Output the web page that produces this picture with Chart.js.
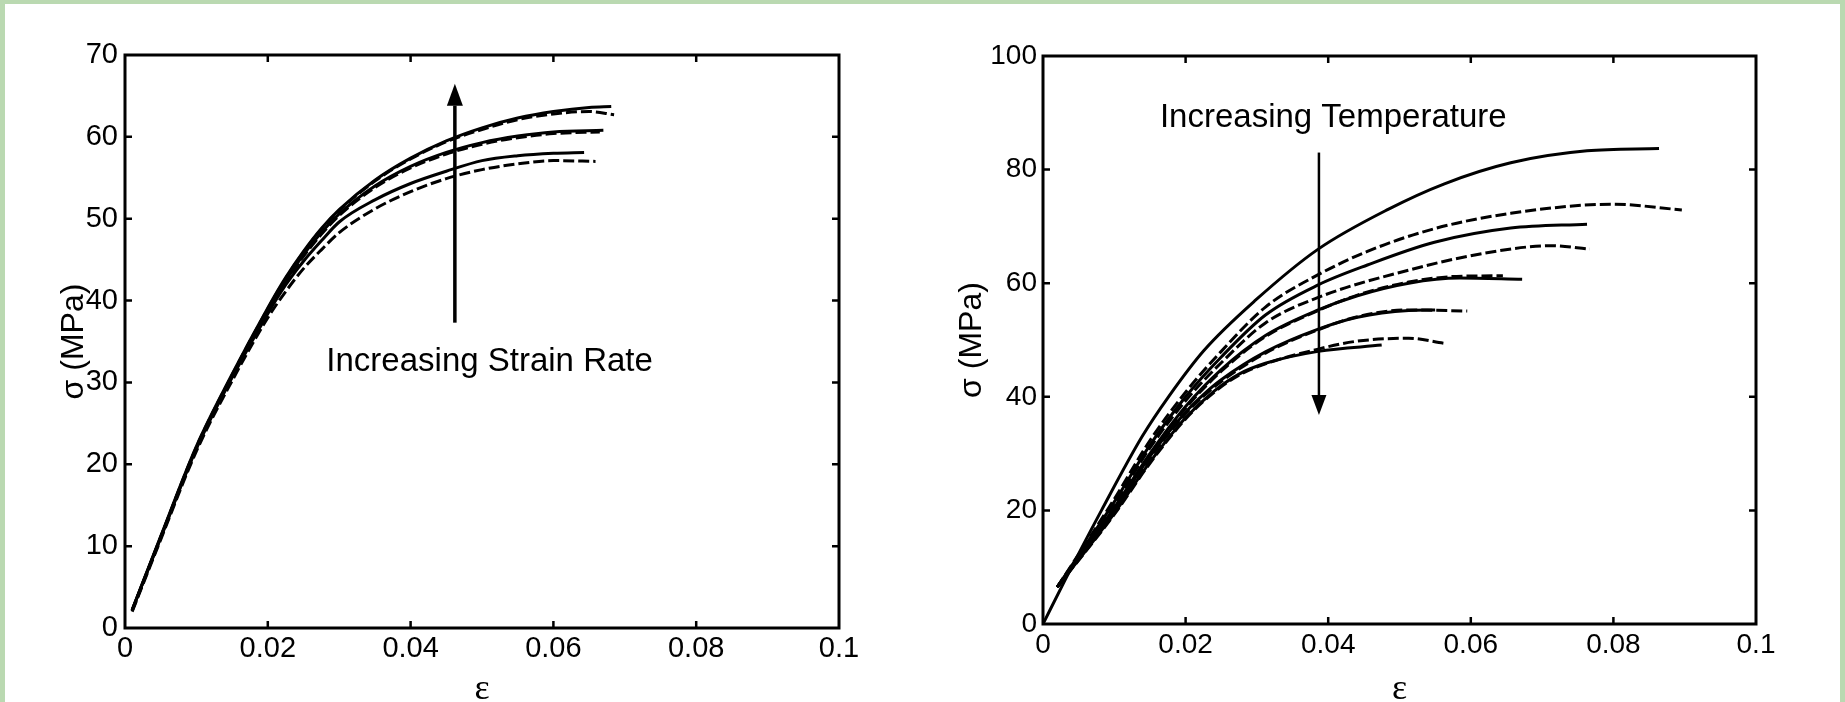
<!DOCTYPE html>
<html>
<head>
<meta charset="utf-8">
<title>Stress-strain curves</title>
<script src="https://cdn.jsdelivr.net/npm/chart.js@4.4.1/dist/chart.umd.min.js"></script>
<style>
    html, body { margin: 0; padding: 0; }
    body {
        width: 1845px; height: 702px; overflow: hidden; position: relative;
        background: #bad9b1;
    }
    #sheet { position: absolute; left: 5px; top: 4px; width: 1835px; height: 698px; background: #fff; }
    canvas { position: absolute; top: 0; }
    #rateChart { left: 0; }
    #tempChart { left: 900px; }
</style>
</head>
<body>
<div id="sheet"></div>
<canvas id="rateChart" width="900" height="702"></canvas>
<canvas id="tempChart" width="945" height="702"></canvas>
<script>
// --- DATA ---
const strainTicks = [0, 0.02, 0.04, 0.06, 0.08, 0.1];
const strainTickLabels = ['0', '0.02', '0.04', '0.06', '0.08', '0.1'];
const rateStressTicks = [0, 10, 20, 30, 40, 50, 60, 70];
const tempStressTicks = [0, 20, 40, 60, 80, 100];

// left panel: strain rate series [strain, stress MPa]
const rateHiSolid = [[0.001,2.2],[0.005,11.2],[0.01,22.2],[0.015,31.0],[0.02,39.1],[0.0225,42.8],[0.025,46.0],[0.0275,48.8],[0.03,51.1],[0.035,54.7],[0.04,57.4],[0.045,59.5],[0.05,61.1],[0.055,62.3],[0.06,63.1],[0.065,63.6],[0.0681,63.7]];
const rateHiDashed = [[0.001,2.1],[0.005,11.1],[0.01,22.1],[0.015,30.9],[0.02,39.0],[0.0225,42.7],[0.025,45.9],[0.0275,48.7],[0.03,51.0],[0.035,54.6],[0.04,57.3],[0.045,59.4],[0.05,60.9],[0.055,62.1],[0.06,62.8],[0.065,63.1],[0.0685,62.7]];
const rateMidSolid = [[0.001,2.2],[0.005,11.1],[0.01,22.0],[0.015,30.8],[0.02,38.8],[0.0225,42.4],[0.025,45.6],[0.0275,48.3],[0.03,50.6],[0.035,54.0],[0.04,56.4],[0.045,58.1],[0.05,59.3],[0.055,60.1],[0.06,60.6],[0.067,60.8]];
const rateMidDashed = [[0.001,2.1],[0.005,11.0],[0.01,21.9],[0.015,30.7],[0.02,38.7],[0.0225,42.2],[0.025,45.4],[0.0275,48.1],[0.03,50.4],[0.035,53.8],[0.04,56.2],[0.045,57.9],[0.05,59.1],[0.055,59.9],[0.06,60.4],[0.0665,60.6]];
const rateLoSolid = [[0.001,2.2],[0.005,11.0],[0.01,21.9],[0.015,30.6],[0.02,38.4],[0.0225,41.9],[0.025,44.8],[0.0275,47.3],[0.03,49.6],[0.035,52.3],[0.04,54.3],[0.045,55.8],[0.05,57.1],[0.055,57.7],[0.06,58.0],[0.0643,58.1]];
const rateLoDashed = [[0.001,2.0],[0.005,10.8],[0.01,21.6],[0.015,30.2],[0.02,37.9],[0.0225,41.1],[0.025,43.9],[0.0275,46.2],[0.03,48.3],[0.035,51.2],[0.04,53.3],[0.045,54.9],[0.05,56.0],[0.055,56.7],[0.06,57.1],[0.0659,57.0]];

// right panel: temperature series [strain, stress MPa], coldest first
const tempS1 = [[0,0],[0.003,7.5],[0.0082,20],[0.0139,33],[0.0176,40],[0.0226,48.2],[0.0298,57.0],[0.0386,66.0],[0.0484,73.0],[0.0563,77.5],[0.0656,81.2],[0.0763,83.3],[0.0864,83.7]];
const tempD1 = [[0.002,6.5],[0.01,22],[0.015,32.3],[0.02,40.8],[0.025,48.0],[0.0312,55.8],[0.0386,61.5],[0.0455,65.6],[0.0549,69.6],[0.0656,72.3],[0.0799,73.9],[0.0896,72.9]];
const tempS2 = [[0.002,6.5],[0.01,21.5],[0.015,31.5],[0.02,40.0],[0.025,47.0],[0.0312,54.4],[0.0386,59.7],[0.0455,63.2],[0.0549,67.2],[0.0656,69.7],[0.0763,70.4]];
const tempD2 = [[0.002,6.5],[0.01,21],[0.015,31],[0.02,39.3],[0.025,46.0],[0.0312,53.0],[0.0386,57.5],[0.0513,62.3],[0.062,65.3],[0.0713,66.6],[0.0767,66.0]];
const tempS3 = [[0.002,6.5],[0.01,20.5],[0.015,30],[0.02,38.3],[0.025,44.8],[0.0312,50.8],[0.0386,55.3],[0.0441,57.8],[0.0513,60.0],[0.0584,60.9],[0.0672,60.7]];
const tempD3 = [[0.002,6.5],[0.01,20.3],[0.015,29.8],[0.02,38.0],[0.025,44.5],[0.0312,50.6],[0.0386,55.2],[0.0441,57.9],[0.0513,60.2],[0.058,61.2],[0.0645,61.3]];
const tempS4 = [[0.002,6.5],[0.01,20],[0.015,29.5],[0.02,37.3],[0.0225,40.4],[0.025,43.0],[0.0312,47.9],[0.0386,51.9],[0.0441,54.0],[0.0513,55.2],[0.055,55.3]];
const tempD4 = [[0.002,6.5],[0.01,19.8],[0.015,29.2],[0.02,37.0],[0.0225,40.1],[0.025,42.7],[0.0312,47.7],[0.0386,51.8],[0.0441,54.1],[0.0513,55.3],[0.0595,55.1]];
const tempS5 = [[0.002,6.5],[0.01,19.5],[0.015,28.5],[0.02,36.3],[0.024,41.0],[0.0275,44.0],[0.0312,45.9],[0.0386,48.0],[0.0475,49.1]];
const tempD5 = [[0.002,6.5],[0.01,19.3],[0.015,28.3],[0.02,36.1],[0.024,40.8],[0.0275,43.8],[0.0312,45.8],[0.0386,48.4],[0.0441,49.8],[0.0513,50.3],[0.0563,49.4]];

// annotations, in data units
const rateArrow = { x: 0.0462, from: 37.3, to: 66.5 };
const rateNote = { text: 'Increasing Strain Rate', x: 0.0282, y: 32.5 };
const tempArrow = { x: 0.0387, from: 83, to: 36.8 };
const tempNote = { text: 'Increasing Temperature', x: 0.0164, y: 89.1 };

const SANS = "'Liberation Sans', Arial, sans-serif";
const SERIF = "'Liberation Serif', 'Times New Roman', serif";

// --- box, inward ticks and arrow note ---
const framePlugin = {
    id: 'frame',
    afterDatasetsDraw(chart, args, opts) {
        const { ctx, chartArea: a, scales: { x, y } } = chart;
        ctx.save();
        ctx.strokeStyle = '#000';
        ctx.lineWidth = 3;
        ctx.strokeRect(a.left, a.top, a.right - a.left, a.bottom - a.top);

        ctx.lineWidth = 2.5;
        ctx.beginPath();
        x.ticks.forEach(t => {
            const px = x.getPixelForValue(t.value);
            if (px <= a.left + 2 || px >= a.right - 2) return;
            ctx.moveTo(px, a.bottom); ctx.lineTo(px, a.bottom - 7);
            ctx.moveTo(px, a.top); ctx.lineTo(px, a.top + 7);
        });
        y.ticks.forEach(t => {
            const py = y.getPixelForValue(t.value);
            if (py <= a.top + 2 || py >= a.bottom - 2) return;
            ctx.moveTo(a.left, py); ctx.lineTo(a.left + 7, py);
            ctx.moveTo(a.right, py); ctx.lineTo(a.right - 7, py);
        });
        ctx.stroke();

        // arrow
        const ar = opts.arrow;
        const ax = x.getPixelForValue(ar.x);
        const y0 = y.getPixelForValue(ar.from);
        const y1 = y.getPixelForValue(ar.to);
        const dir = y1 < y0 ? -1 : 1;
        const headLen = opts.headLen, headW = opts.headW;
        ctx.lineWidth = opts.arrowWidth;
        ctx.beginPath();
        ctx.moveTo(ax, y0);
        ctx.lineTo(ax, y1 - dir * headLen);
        ctx.stroke();
        ctx.fillStyle = '#000';
        ctx.beginPath();
        ctx.moveTo(ax, y1);
        ctx.lineTo(ax - headW / 2, y1 - dir * headLen);
        ctx.lineTo(ax + headW / 2, y1 - dir * headLen);
        ctx.closePath();
        ctx.fill();

        // note text
        const n = opts.note;
        ctx.font = opts.noteFont;
        ctx.textAlign = 'left';
        ctx.textBaseline = 'middle';
        ctx.fillText(n.text, x.getPixelForValue(n.x), y.getPixelForValue(n.y));
        ctx.restore();
    }
};

function series(points, dashed, width) {
    return {
        data: points.map(([x, y]) => ({ x, y })),
        borderColor: '#000',
        borderWidth: width,
        borderDash: dashed ? [11, 4] : [],
        pointRadius: 0,
        cubicInterpolationMode: 'monotone',
        fill: false
    };
}

function makeChart(id, cfg) {
    const ctx = document.getElementById(id).getContext('2d');
    return new Chart(ctx, {
        type: 'line',
        data: { datasets: cfg.datasets },
        options: {
            responsive: false,
            animation: false,
            events: [],
            layout: { padding: { left: 0, top: cfg.top, right: cfg.right, bottom: 0 } },
            plugins: {
                legend: { display: false },
                tooltip: { enabled: false },
                frame: cfg.frame
            },
            scales: {
                x: {
                    type: 'linear', min: 0, max: 0.1,
                    grid: { display: false, drawTicks: false },
                    border: { display: false },
                    afterBuildTicks: s => { s.ticks = strainTicks.map(v => ({ value: v })); },
                    afterFit: s => { s.height = cfg.xHeight; },
                    ticks: {
                        color: '#000', padding: cfg.xPad, maxRotation: 0,
                        font: { family: SANS, size: cfg.tickSize },
                        callback: (v, i) => strainTickLabels[i]
                    },
                    title: {
                        display: true, text: 'ε', color: '#000',
                        font: { family: SERIF, size: 36, lineHeight: 0.7 },
                        padding: { top: 0, bottom: 0 }
                    }
                },
                y: {
                    type: 'linear', min: 0, max: cfg.yMax,
                    grid: { display: false, drawTicks: false },
                    border: { display: false },
                    afterBuildTicks: s => { s.ticks = cfg.yTicks.map(v => ({ value: v })); },
                    afterFit: s => { s.width = cfg.yWidth; },
                    ticks: {
                        color: '#000', padding: cfg.yPad,
                        font: { family: SANS, size: cfg.tickSize },
                        callback: v => String(v)
                    },
                    title: {
                        display: true, text: 'σ (MPa)', color: '#000',
                        font: { family: SANS, size: 32, lineHeight: 1 },
                        padding: { top: cfg.yTitlePad, bottom: 0 }
                    }
                }
            }
        },
        plugins: [framePlugin]
    });
}

makeChart('rateChart', {
    datasets: [
        series(rateHiSolid, false, 3), series(rateHiDashed, true, 3),
        series(rateMidSolid, false, 3), series(rateMidDashed, true, 3),
        series(rateLoSolid, false, 3), series(rateLoDashed, true, 3)
    ],
    top: 55, right: 61, xHeight: 74, yWidth: 125,
    xPad: 4, yPad: 7, yTitlePad: 58, tickSize: 29,
    yMax: 70, yTicks: rateStressTicks,
    frame: {
        arrow: rateArrow, note: rateNote, headLen: 22, headW: 16, arrowWidth: 3.5,
        noteFont: '33px ' + SANS
    }
});

makeChart('tempChart', {
    datasets: [
        series(tempS1, false, 3), series(tempD1, true, 3),
        series(tempS2, false, 3), series(tempD2, true, 3),
        series(tempS3, false, 3), series(tempD3, true, 3),
        series(tempS4, false, 3), series(tempD4, true, 3),
        series(tempS5, false, 3), series(tempD5, true, 3)
    ],
    top: 56, right: 89, xHeight: 78, yWidth: 143,
    xPad: 4, yPad: 6, yTitlePad: 56, tickSize: 28,
    yMax: 100, yTicks: tempStressTicks,
    frame: {
        arrow: tempArrow, note: tempNote, headLen: 20, headW: 15, arrowWidth: 2.5,
        noteFont: '33px ' + SANS
    }
});
</script>
</body>
</html>
